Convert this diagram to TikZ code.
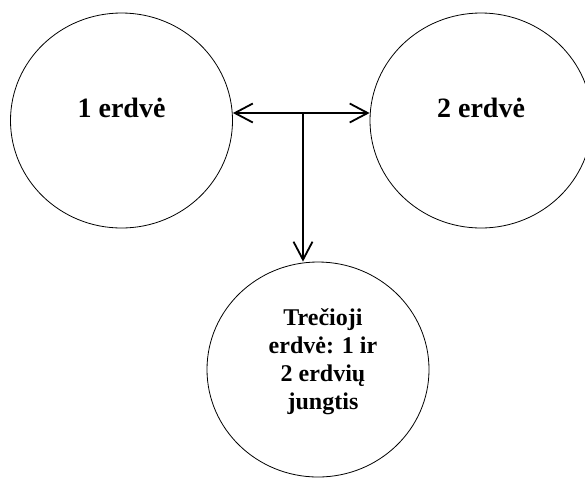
\documentclass[tikz,border=0pt]{standalone}
\usepackage{fontspec}
\setmainfont{Liberation Serif}
\usetikzlibrary{shapes.geometric, arrows.meta}
\tikzstyle{arrow} = [line width=1.8pt, >={Straight Barb[length=18pt,width=19pt]}]

\begin{document}
\begin{tikzpicture}
        [
            x=1pt, y=-1pt,
            space/.style={ellipse,draw=black,line width=0.8pt, minimum width=222pt, minimum height=215pt, inner sep=0pt},
            bigtxt/.style={font=\bfseries\fontsize{28}{32}\selectfont},
            smalltxt/.style={font=\bfseries\fontsize{24}{28}\selectfont, align=center},
        ]
    \useasboundingbox (0,0) rectangle (585,483);

    \node[space] (s1) at (121.5,120.5){};
    \node[space] (s2) at (481,120.5){};
    \node[space] (s3) at (318,369.5){};

    \node[bigtxt] (t1) at ([yshift=13pt]s1.center){1 erdvė};
    \node[bigtxt] (t2) at ([yshift=13pt]s2.center){2 erdvė};
    \node[smalltxt] (t3) at ([xshift=5pt,yshift=8pt]s3.center){Trečioji\\erdvė: 1 ir\\2 erdvių\\jungtis};

    \coordinate (j) at (303,113);
    \draw[arrow,<->] (j -| s1.east) -- (j -| s2.west);
    \draw[arrow,->] (j) -- (j |- s3.north);
    \end{tikzpicture}
\end{document}
